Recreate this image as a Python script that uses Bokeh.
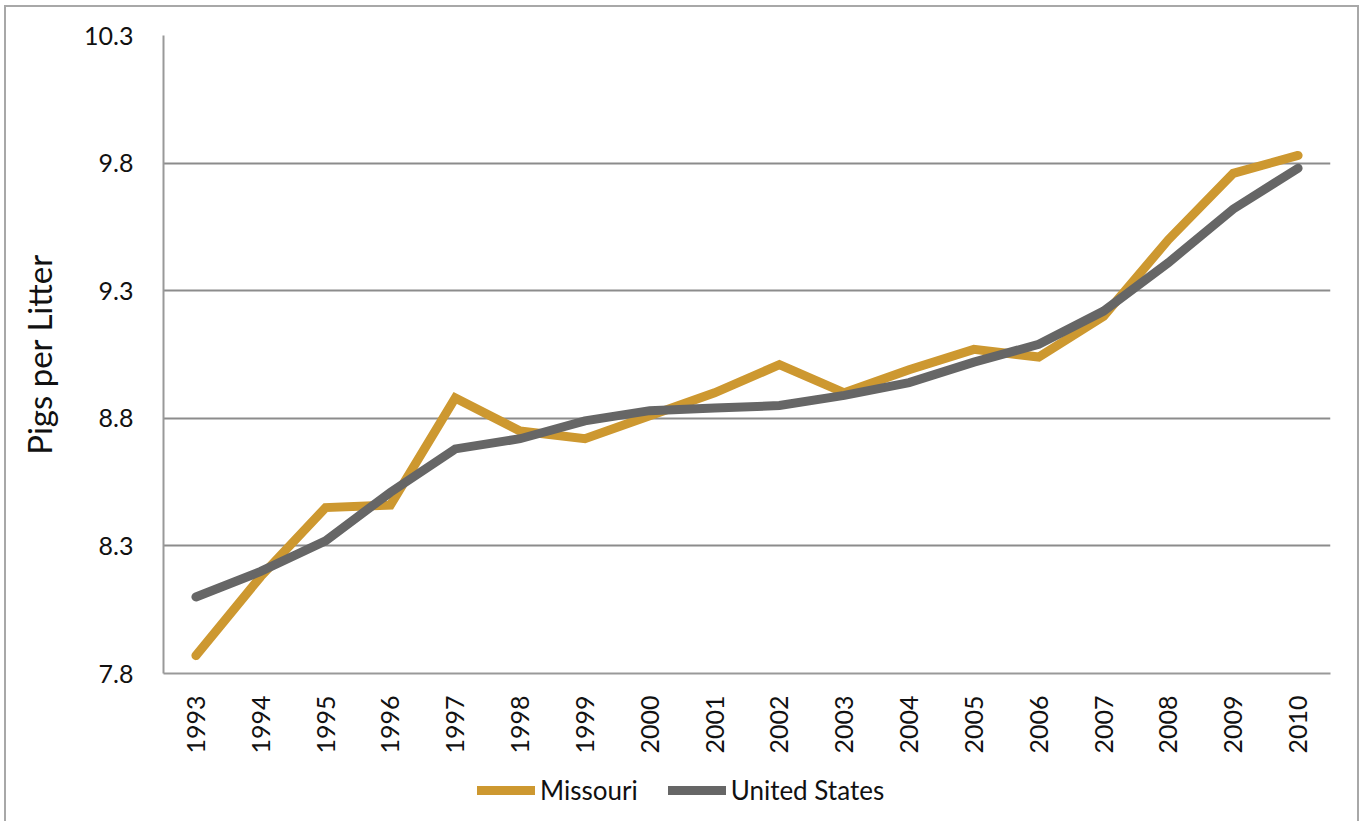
import math
from bokeh.plotting import figure
from bokeh.layouts import column
from bokeh.models import FixedTicker, Legend, LegendItem, FactorRange, Range1d
from bokeh.embed import file_html
from bokeh.resources import INLINE

years = [str(y) for y in range(1993, 2011)]
missouri = [7.87, 8.18, 8.45, 8.46, 8.88, 8.75, 8.72, 8.81, 8.90, 9.01,
            8.90, 8.99, 9.07, 9.04, 9.20, 9.50, 9.76, 9.83]
united_states = [8.10, 8.20, 8.32, 8.51, 8.68, 8.72, 8.79, 8.83, 8.84, 8.85,
                 8.89, 8.94, 9.02, 9.09, 9.22, 9.41, 9.62, 9.78]
y_ticks = [7.8, 8.3, 8.8, 9.3, 9.8, 10.3]
series_names = ["Missouri", "United States"]

FONT = "Lato"
GOLD = "#CD9830"
GRAY = "#666666"
W = 1351

p = figure(width=W, height=755, x_range=FactorRange(*years),
           y_range=Range1d(7.8, 10.3), output_backend="svg",
           toolbar_location=None, min_border_left=157, min_border_right=27,
           min_border_top=28, min_border_bottom=89)
p.outline_line_color = None
p.xgrid.grid_line_color = None
p.ygrid.grid_line_color = "#8C8C8C"
p.ygrid.grid_line_width = 2
p.yaxis.ticker = FixedTicker(ticks=y_ticks)
p.yaxis.major_label_overrides = {t: f"{t:.1f}" for t in y_ticks}

for ax in (p.xaxis[0], p.yaxis[0]):
    ax.axis_line_color = "#999999"
    ax.axis_line_width = 2
    ax.major_tick_line_color = None
    ax.minor_tick_line_color = None
    ax.major_label_text_font = FONT
    ax.major_label_text_font_size = "25px"
    ax.major_label_text_color = "#111111"

p.xaxis.major_label_orientation = math.pi / 2
p.xaxis.major_label_standoff = 16
p.yaxis.major_label_standoff = 24
p.yaxis.axis_label = "Pigs per Litter"
p.yaxis.axis_label_text_font = FONT
p.yaxis.axis_label_text_font_size = "33px"
p.yaxis.axis_label_text_font_style = "normal"
p.yaxis.axis_label_text_color = "#111111"
p.yaxis.axis_label_standoff = 22

p.line(years, missouri, line_color=GOLD, line_width=9, line_cap="round", line_join="miter")
p.line(years, united_states, line_color=GRAY, line_width=9, line_cap="round", line_join="miter")

# legend strip below the chart (series drawn outside its visible range; only the legend shows)
leg = figure(width=W, height=59, x_range=FactorRange(*years), y_range=Range1d(0, 1),
             output_backend="svg", toolbar_location=None,
             x_axis_type=None, y_axis_type=None, min_border=0)
leg.outline_line_color = None
leg.xgrid.visible = False
leg.ygrid.visible = False
l1 = leg.line(years, missouri, line_color=GOLD, line_width=9, line_cap="round")
l2 = leg.line(years, united_states, line_color=GRAY, line_width=9, line_cap="round")
legend = Legend(items=[LegendItem(label=series_names[0], renderers=[l1]),
                       LegendItem(label=series_names[1], renderers=[l2])],
                orientation="horizontal", location=(314, 15),
                border_line_color=None, background_fill_alpha=0,
                padding=0, margin=0, spacing=30, label_standoff=5,
                glyph_width=58, glyph_height=26,
                label_text_font=FONT, label_text_font_size="26px",
                label_text_color="#111111")
leg.add_layout(legend, "center")

layout = column(p, leg, spacing=0,
                styles={"border": "2px solid #A8A8A8", "border-bottom": "none",
                        "margin-left": "4px", "margin-top": "5px"})

open("out.html", "w").write(file_html(layout, INLINE))
